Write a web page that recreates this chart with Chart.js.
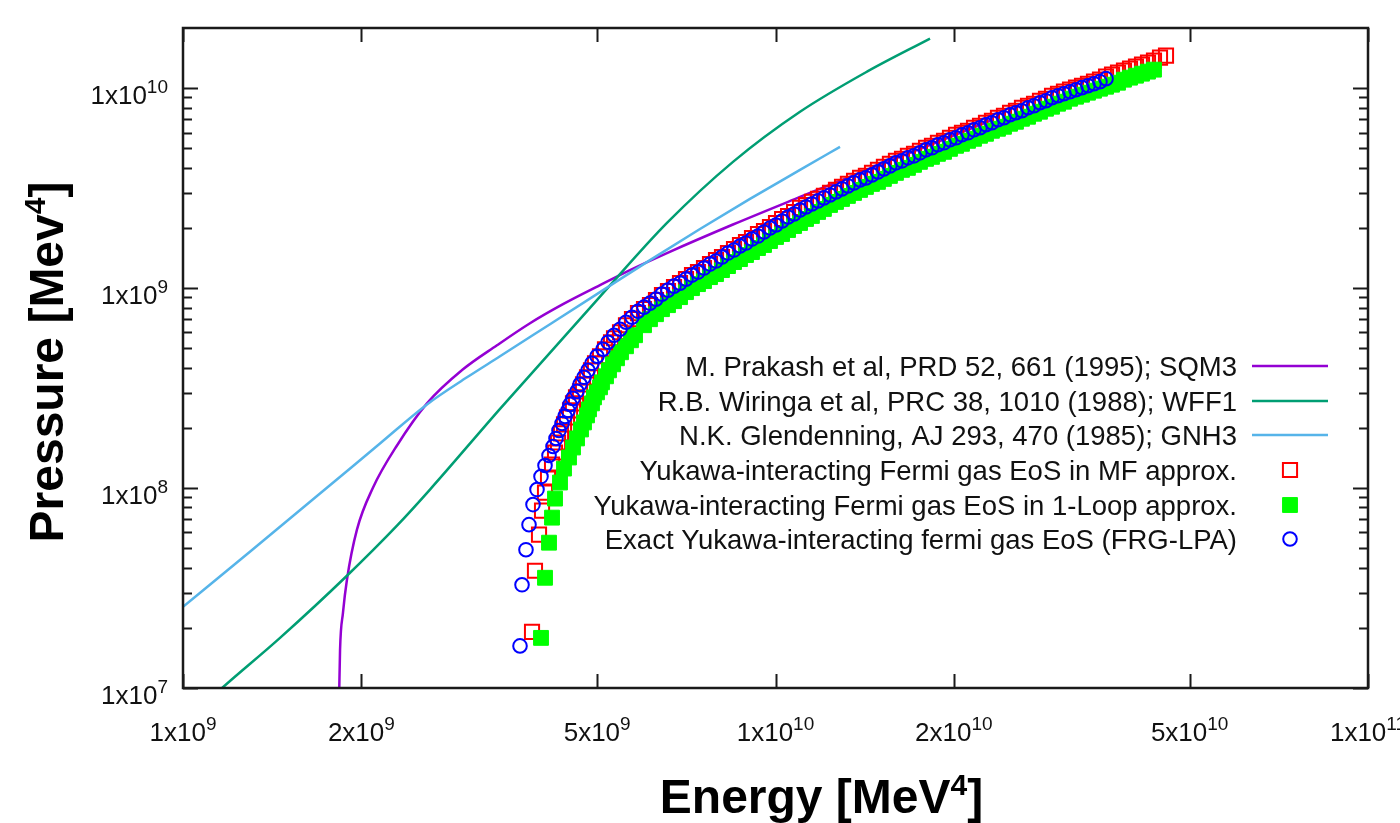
<!DOCTYPE html>
<html>
<head>
<meta charset="utf-8">
<title>Equation of state comparison</title>
<script src="https://cdn.jsdelivr.net/npm/chart.js@4"></script>
<style>
  html, body { margin: 0; padding: 0; background: #ffffff; }
  #wrap { width: 1400px; height: 823px; }
</style>
</head>
<body>
<div id="wrap"><canvas id="eosChart" width="1400" height="823"></canvas></div>
<script>
// ---- axis ticks ----
const xTickValues = [1e9, 2e9, 5e9, 1e10, 2e10, 5e10, 1e11];
const xTickLabels = ["1x10{9}", "2x10{9}", "5x10{9}", "1x10{10}", "2x10{10}", "5x10{10}", "1x10{11}"];
const yTickValues = [1e7, 1e8, 1e9, 1e10];
const yTickLabels = ["1x10{7}", "1x10{8}", "1x10{9}", "1x10{10}"];
const xTitle = "Energy [MeV{4}]";
const yTitle = "Pressure [Mev{4}]";

// ---- reference EoS curves (energy, pressure in MeV^4) ----
const sqm3Energy = [1.834e9, 1.841e9, 1.862e9, 1.891e9, 1.966e9, 2.093e9, 2.297e9, 2.581e9, 2.969e9, 3.388e9,
  3.852e9, 4.379e9, 5.056e9, 5.681e9, 6.559e9, 8.477e9, 1.100e10, 1.427e10, 1.844e10, 2.302e10];
const sqm3Pressure = [8.707e6, 1.550e7, 2.376e7, 3.478e7, 6.194e7, 1.006e8, 1.633e8, 2.652e8, 3.926e8, 5.179e8,
  6.677e8, 8.314e8, 1.035e9, 1.231e9, 1.498e9, 2.081e9, 2.858e9, 3.904e9, 5.270e9, 6.872e9];

const wff1Energy = [1.111e9, 1.164e9, 1.458e9, 1.891e9, 2.297e9, 2.611e9, 3.428e9, 5.056e9, 6.559e9, 8.477e9,
  1.100e10, 1.427e10, 1.823e10];
const wff1Pressure = [8.81e6, 1.000e7, 1.781e7, 3.643e7, 6.487e7, 9.828e7, 2.489e8, 9.065e8, 2.118e9, 4.281e9,
  7.624e9, 1.210e10, 1.771e10];

const gnh3Energy = [1.000e9, 1.297e9, 1.703e9, 2.150e9, 2.581e9, 3.015e9, 3.428e9, 4.163e9, 5.056e9, 6.140e9,
  7.457e9, 9.056e9, 1.100e10, 1.285e10];
const gnh3Pressure = [2.547e7, 4.805e7, 9.385e7, 1.671e8, 2.621e8, 3.580e8, 4.562e8, 6.600e8, 9.549e8, 1.381e9,
  1.976e9, 2.793e9, 3.904e9, 5.090e9];

// ---- Yukawa Fermi gas points ----
// energies along the dense upper band (shared sampling of the band)
const bandEnergy = [5.339e9, 5.465e9, 5.593e9, 5.725e9, 5.860e9, 5.999e9, 6.140e9, 6.285e9, 6.433e9, 6.585e9,
  6.741e9, 6.900e9, 7.062e9, 7.229e9, 7.399e9, 7.574e9, 7.753e9, 7.936e9, 8.123e9, 8.314e9,
  8.511e9, 8.711e9, 8.917e9, 9.127e9, 9.342e9, 9.563e9, 9.788e9, 1.002e10, 1.026e10, 1.050e10,
  1.075e10, 1.100e10, 1.126e10, 1.152e10, 1.180e10, 1.207e10, 1.236e10, 1.265e10, 1.295e10, 1.325e10,
  1.357e10, 1.389e10, 1.421e10, 1.455e10, 1.489e10, 1.524e10, 1.560e10, 1.597e10, 1.635e10, 1.673e10,
  1.713e10, 1.753e10, 1.795e10, 1.837e10, 1.880e10, 1.925e10, 1.970e10, 2.017e10, 2.064e10, 2.113e10,
  2.163e10, 2.214e10, 2.266e10, 2.319e10, 2.374e10, 2.430e10, 2.488e10, 2.546e10, 2.606e10, 2.668e10,
  2.731e10, 2.795e10, 2.861e10, 2.929e10, 2.998e10, 3.068e10, 3.141e10, 3.215e10, 3.291e10, 3.368e10,
  3.448e10, 3.529e10, 3.613e10, 3.698e10, 3.785e10, 3.874e10, 3.966e10, 4.059e10, 4.155e10, 4.253e10,
  4.353e10, 4.456e10, 4.561e10];

// MF approx (red open squares)
const mfEnergyLow = [3.882e9, 3.927e9, 3.989e9, 4.036e9, 4.083e9, 4.131e9, 4.196e9, 4.245e9, 4.295e9, 4.345e9,
  4.396e9, 4.447e9, 4.500e9, 4.552e9, 4.606e9, 4.678e9, 4.733e9, 4.807e9, 4.882e9, 4.959e9,
  5.056e9, 5.155e9, 5.277e9];
const mfPressureLow = [1.908e7, 3.859e7, 5.847e7, 7.713e7, 9.494e7, 1.129e8, 1.312e8, 1.506e8, 1.691e8, 1.876e8,
  2.081e8, 2.256e8, 2.446e8, 2.652e8, 2.842e8, 3.046e8, 3.302e8, 3.580e8, 3.881e8, 4.208e8,
  4.562e8, 4.946e8, 5.362e8];
const mfPressureBand = [5.615e8, 6.018e8, 6.524e8, 6.992e8, 7.493e8, 7.848e8, 8.218e8, 8.707e8, 9.224e8, 9.659e8,
  1.012e9, 1.059e9, 1.109e9, 1.162e9, 1.203e9, 1.260e9, 1.319e9, 1.381e9, 1.430e9, 1.498e9,
  1.568e9, 1.643e9, 1.701e9, 1.781e9, 1.865e9, 1.931e9, 2.022e9, 2.118e9, 2.218e9, 2.296e9,
  2.404e9, 2.518e9, 2.606e9, 2.698e9, 2.793e9, 2.892e9, 2.993e9, 3.099e9, 3.208e9, 3.321e9,
  3.438e9, 3.559e9, 3.642e9, 3.771e9, 3.904e9, 4.041e9, 4.183e9, 4.331e9, 4.432e9, 4.588e9,
  4.695e9, 4.861e9, 5.032e9, 5.150e9, 5.331e9, 5.455e9, 5.648e9, 5.847e9, 5.983e9, 6.123e9,
  6.339e9, 6.487e9, 6.715e9, 6.872e9, 7.114e9, 7.280e9, 7.537e9, 7.713e9, 7.984e9, 8.171e9,
  8.362e9, 8.656e9, 8.858e9, 9.170e9, 9.385e9, 9.604e9, 9.828e9, 1.006e10, 1.029e10, 1.053e10,
  1.078e10, 1.103e10, 1.142e10, 1.169e10, 1.196e10, 1.224e10, 1.252e10, 1.282e10, 1.312e10, 1.342e10,
  1.373e10, 1.422e10, 1.455e10];

// 1-loop approx (green filled squares)
const loopEnergyLow = [4.020e9, 4.083e9, 4.147e9, 4.196e9, 4.245e9, 4.328e9, 4.396e9, 4.482e9, 4.552e9, 4.624e9,
  4.696e9, 4.751e9, 4.807e9, 4.844e9, 4.901e9, 4.939e9, 4.997e9, 5.056e9, 5.095e9, 5.175e9,
  5.236e9, 5.318e9, 5.401e9, 5.486e9, 5.593e9, 5.703e9, 5.793e9];
const loopPressureLow = [1.781e7, 3.559e7, 5.331e7, 7.114e7, 8.859e7, 1.066e8, 1.252e8, 1.422e8, 1.596e8, 1.771e8,
  1.964e8, 2.130e8, 2.309e8, 2.475e8, 2.652e8, 2.842e8, 3.011e8, 3.190e8, 3.379e8, 3.622e8,
  3.881e8, 4.159e8, 4.458e8, 4.777e8, 5.120e8, 5.487e8, 5.813e8];
const loopPressureBand = [6.524e8, 6.992e8, 7.407e8, 7.848e8, 8.218e8, 8.607e8, 9.013e8, 9.549e8, 1.000e9, 1.047e9,
  1.084e9, 1.135e9, 1.175e9, 1.231e9, 1.289e9, 1.350e9, 1.397e9, 1.464e9, 1.515e9, 1.587e9,
  1.643e9, 1.720e9, 1.802e9, 1.865e9, 1.953e9, 2.045e9, 2.118e9, 2.218e9, 2.296e9, 2.404e9,
  2.489e9, 2.606e9, 2.698e9, 2.793e9, 2.892e9, 2.993e9, 3.099e9, 3.208e9, 3.321e9, 3.399e9,
  3.518e9, 3.642e9, 3.771e9, 3.904e9, 3.995e9, 4.136e9, 4.281e9, 4.432e9, 4.535e9, 4.695e9,
  4.805e9, 4.974e9, 5.150e9, 5.270e9, 5.455e9, 5.583e9, 5.780e9, 5.915e9, 6.123e9, 6.266e9,
  6.412e9, 6.638e9, 6.793e9, 7.032e9, 7.197e9, 7.450e9, 7.624e9, 7.893e9, 8.077e9, 8.362e9,
  8.557e9, 8.858e9, 9.065e9, 9.277e9, 9.494e9, 9.715e9, 9.942e9, 1.017e10, 1.041e10, 1.065e10,
  1.103e10, 1.129e10, 1.155e10, 1.182e10, 1.210e10, 1.238e10];

// exact FRG-LPA (blue open circles)
const frgEnergyLow = [3.705e9, 3.734e9, 3.792e9, 3.837e9, 3.897e9, 3.958e9, 4.020e9, 4.083e9, 4.147e9, 4.212e9,
  4.261e9, 4.311e9, 4.362e9, 4.413e9, 4.465e9, 4.500e9, 4.552e9, 4.624e9, 4.678e9, 4.751e9,
  4.826e9, 4.901e9, 4.997e9, 5.115e9, 5.216e9];
const frgPressureLow = [1.624e7, 3.283e7, 4.918e7, 6.562e7, 8.266e7, 9.828e7, 1.142e8, 1.297e8, 1.455e8, 1.614e8,
  1.771e8, 1.942e8, 2.105e8, 2.283e8, 2.446e8, 2.621e8, 2.809e8, 3.046e8, 3.302e8, 3.580e8,
  3.881e8, 4.208e8, 4.562e8, 4.947e8, 5.363e8];
const frgPressureBand = [5.813e8, 6.230e8, 6.754e8, 7.155e8, 7.668e8, 8.031e8, 8.410e8, 8.808e8, 9.331e8, 9.772e8,
  1.023e9, 1.059e9, 1.109e9, 1.162e9, 1.203e9, 1.260e9, 1.319e9, 1.366e9, 1.430e9, 1.498e9,
  1.550e9, 1.624e9, 1.681e9, 1.760e9, 1.822e9, 1.909e9, 1.999e9, 2.069e9, 2.167e9, 2.269e9,
  2.349e9, 2.460e9, 2.547e9, 2.637e9, 2.730e9, 2.826e9, 2.925e9, 3.028e9, 3.135e9, 3.245e9,
  3.360e9, 3.478e9, 3.559e9, 3.685e9, 3.815e9, 3.949e9, 4.088e9, 4.232e9, 4.331e9, 4.483e9,
  4.588e9, 4.750e9, 4.917e9, 5.032e9, 5.209e9, 5.331e9, 5.519e9, 5.648e9, 5.847e9, 5.983e9,
  6.194e9, 6.339e9, 6.562e9, 6.715e9, 6.952e9, 7.114e9, 7.365e9, 7.537e9, 7.713e9, 7.984e9,
  8.171e9, 8.459e9, 8.656e9, 8.961e9, 9.170e9, 9.385e9, 9.604e9, 9.828e9, 1.006e10, 1.029e10,
  1.053e10, 1.078e10, 1.116e10];

function toPoints(energy, pressure) {
    return energy.map((e, i) => ({ x: e, y: pressure[i] }));
}

const mfPoints = toPoints(mfEnergyLow.concat(bandEnergy), mfPressureLow.concat(mfPressureBand));
const loopPoints = toPoints(loopEnergyLow.concat(bandEnergy.slice(5, 91)), loopPressureLow.concat(loopPressureBand));
const frgPoints = toPoints(frgEnergyLow.concat(bandEnergy.slice(0, 83)), frgPressureLow.concat(frgPressureBand));

const labelFont = '"Liberation Sans", Arial, sans-serif';

// draw "a{b}c" with {b} as superscript
function drawSup(ctx, str, x, y, size, supSize, rise, align, weight) {
    const parts = str.split(/[{}]/);
    const w = weight ? weight + " " : "";
    let total = 0;
    const widths = parts.map((p, i) => {
        ctx.font = w + (i % 2 ? supSize : size) + "px " + labelFont;
        const pw = ctx.measureText(p).width;
        total += pw;
        return pw;
    });
    let cx = align === "center" ? x - total / 2 : align === "right" ? x - total : x;
    parts.forEach((p, i) => {
        ctx.font = w + (i % 2 ? supSize : size) + "px " + labelFont;
        ctx.fillText(p, cx, i % 2 ? y - rise : y);
        cx += widths[i];
    });
}

function drawMarker(ctx, ds, x, y) {
    const r = ds.pointRadius;
    ctx.lineWidth = ds.pointBorderWidth;
    ctx.strokeStyle = ds.pointBorderColor;
    ctx.fillStyle = ds.pointBackgroundColor;
    ctx.beginPath();
    if (ds.pointStyle === "rect") {
        const s = Math.SQRT1_2 * r;
        ctx.rect(x - s, y - s, 2 * s, 2 * s);
    } else {
        ctx.arc(x, y, r, 0, Math.PI * 2);
    }
    ctx.fill();
    ctx.stroke();
}

// gnuplot style frame, inward ticks, labels and key
const gnuplotFrame = {
    id: "gnuplotFrame",
    afterDraw(chart) {
        const { ctx, chartArea: a } = chart;
        const xs = chart.scales.x, ys = chart.scales.y;
        ctx.save();
        ctx.strokeStyle = "#1a1a1a";
        ctx.lineWidth = 2;
        ctx.beginPath();
        xTickValues.forEach(v => {
            const px = Math.round(xs.getPixelForValue(v)) + 0.5;
            ctx.moveTo(px, a.bottom); ctx.lineTo(px, a.bottom - 14);
            ctx.moveTo(px, a.top); ctx.lineTo(px, a.top + 14);
        });
        for (let d = 7; d <= 10; d++) {
            for (let m = 1; m <= 9; m++) {
                const v = m * Math.pow(10, d);
                if (v >= ys.max) continue;
                const py = Math.round(ys.getPixelForValue(v)) + 0.5;
                const len = m === 1 ? 15 : 9;
                ctx.moveTo(a.left, py); ctx.lineTo(a.left + len, py);
                ctx.moveTo(a.right, py); ctx.lineTo(a.right - len, py);
            }
        }
        ctx.stroke();
        ctx.lineWidth = 2.5;
        ctx.strokeRect(a.left, a.top, a.right - a.left, a.bottom - a.top);

        // tick labels
        ctx.fillStyle = "#111";
        ctx.textBaseline = "alphabetic";
        ctx.textAlign = "left";
        xTickValues.forEach((v, i) => {
            drawSup(ctx, xTickLabels[i], xs.getPixelForValue(v), 741, 26, 19, 11, "center");
        });
        yTickValues.forEach((v, i) => {
            drawSup(ctx, yTickLabels[i], 168, ys.getPixelForValue(v) + 16, 26, 19, 11, "right");
        });

        // axis titles
        ctx.fillStyle = "#000";
        drawSup(ctx, xTitle, (a.left + a.right) / 2 + 46, 813, 48, 30, 18, "center", "bold");
        ctx.save();
        ctx.translate(63, 362);
        ctx.rotate(-Math.PI / 2);
        drawSup(ctx, yTitle, 0, 0, 48, 30, 18, "center", "bold");
        ctx.restore();

        // key
        const keyY = [366, 401, 435, 470, 505, 539];
        chart.data.datasets.forEach((ds, i) => {
            const y = keyY[i];
            ctx.fillStyle = "#111";
            ctx.font = "27.5px " + labelFont;
            ctx.textAlign = "right";
            ctx.fillText(ds.label, 1237, y + 10);
            ctx.textAlign = "left";
            if (ds.showLine) {
                ctx.strokeStyle = ds.borderColor;
                ctx.lineWidth = ds.borderWidth;
                ctx.beginPath();
                ctx.moveTo(1252, y); ctx.lineTo(1328, y);
                ctx.stroke();
            } else {
                drawMarker(ctx, ds, 1290, y);
            }
        });
        ctx.restore();
    }
};

const lineStyle = { showLine: true, pointRadius: 0, borderWidth: 2.5, cubicInterpolationMode: "monotone", fill: false };

new Chart(document.getElementById("eosChart"), {
    type: "scatter",
    data: {
        datasets: [
            Object.assign({ label: "M. Prakash et al, PRD 52, 661 (1995); SQM3", data: toPoints(sqm3Energy, sqm3Pressure),
                borderColor: "#9400d3", order: 6 }, lineStyle),
            Object.assign({ label: "R.B. Wiringa et al, PRC 38, 1010 (1988); WFF1", data: toPoints(wff1Energy, wff1Pressure),
                borderColor: "#009e73", order: 5 }, lineStyle),
            Object.assign({ label: "N.K. Glendenning, AJ 293, 470 (1985); GNH3", data: toPoints(gnh3Energy, gnh3Pressure),
                borderColor: "#56b4e9", order: 4 }, lineStyle),
            { label: "Yukawa-interacting Fermi gas EoS in MF approx.", data: mfPoints, showLine: false,
              pointStyle: "rect", pointRadius: 10, pointBorderWidth: 2, pointBorderColor: "#ff0000",
              pointBackgroundColor: "rgba(255,255,255,0)", order: 3 },
            { label: "Yukawa-interacting Fermi gas EoS in 1-Loop approx.", data: loopPoints, showLine: false,
              pointStyle: "rect", pointRadius: 10.5, pointBorderWidth: 1, pointBorderColor: "#00ff00",
              pointBackgroundColor: "#00ff00", order: 2 },
            { label: "Exact Yukawa-interacting fermi gas EoS (FRG-LPA)", data: frgPoints, showLine: false,
              pointStyle: "circle", pointRadius: 6.8, pointBorderWidth: 2, pointBorderColor: "#0000ff",
              pointBackgroundColor: "rgba(255,255,255,0)", order: 1 }
        ]
    },
    options: {
        responsive: false,
        animation: false,
        devicePixelRatio: 1,
        events: [],
        layout: { padding: { left: 183, right: 32, top: 28, bottom: 135 } },
        scales: {
            x: { type: "logarithmic", min: 1e9, max: 1e11, display: false },
            y: { type: "logarithmic", min: 1e7, max: 2e10, display: false }
        },
        plugins: { legend: { display: false }, tooltip: { enabled: false } }
    },
    plugins: [gnuplotFrame]
});
</script>
</body>
</html>
